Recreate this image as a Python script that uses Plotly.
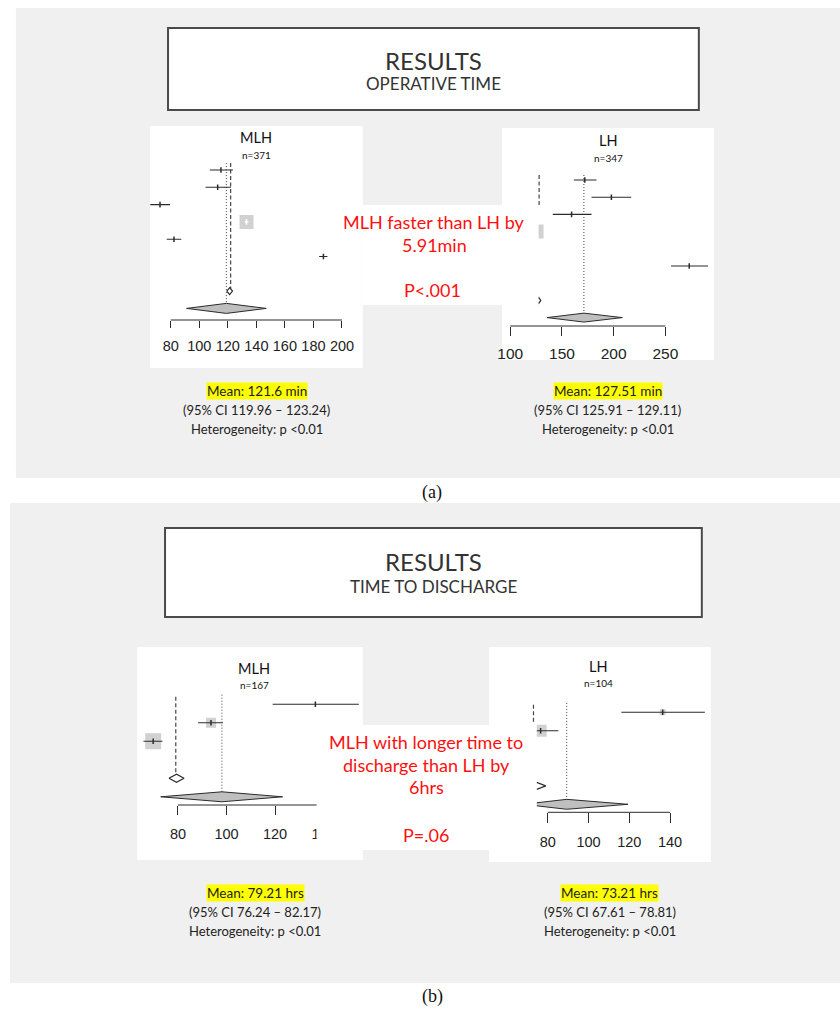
import plotly.graph_objects as go

W, H = 840, 1009

# ------------------------------------------------------------------ data
# (a) Operative time, MLH  (minutes)
op_mlh_row = [1, 2, 3, 4, 5, 6]
op_mlh_est = [115.2, 112.9, 72.5, 133.1, 82.3, 187.0]
op_mlh_lo = [107.4, 104.4, 65.6, 131.8, 77.2, 184.0]
op_mlh_hi = [123.6, 122.2, 79.5, 134.4, 87.4, 189.8]
op_mlh_weight = [0, 0, 0, 14, 0, 0]
op_mlh_random = [91.1, 119.0, 146.9]      # lower, estimate, upper
op_mlh_fixed = [119.3, 121.3, 123.3]
op_mlh_fixed_line = 122.0
op_mlh_ticks = [80, 100, 120, 140, 160, 180, 200]

# (a) Operative time, LH
op_lh_row = [1, 2, 3, 4, 6]
op_lh_est = [172.1, 197.8, 159.3, 125.4, 273.1]
op_lh_lo = [161.5, 178.6, 141.1, 124.5, 255.5]
op_lh_hi = [183.4, 217.0, 178.6, 126.3, 291.3]
op_lh_weight = [0, 0, 0, 14, 0]
op_lh_random = [135.6, 171.2, 208.4]
op_lh_fixed = [125.5, 127.5, 129.5]
op_lh_fixed_line = 127.9
op_lh_ticks = [100, 150, 200, 250]

# (b) Time to discharge, MLH (hours)
dc_mlh_row = [1, 2, 3]
dc_mlh_est = [136.6, 93.6, 69.8]
dc_mlh_lo = [119.0, 88.3, 65.8]
dc_mlh_hi = [154.5, 98.5, 73.6]
dc_mlh_weight = [0, 10, 16]
dc_mlh_random = [72.9, 98.1, 123.1]
dc_mlh_fixed = [76.3, 79.4, 82.5]
dc_mlh_fixed_line = 79.1
dc_mlh_ticks = [80, 100, 120, 140]

# (b) Time to discharge, LH
dc_lh_row = [1, 2]
dc_lh_est = [136.4, 76.5]
dc_lh_lo = [116.1, 72.0]
dc_lh_hi = [157.1, 85.2]
dc_lh_weight = [6, 12]
dc_lh_random = [68.0, 89.3, 119.4]
dc_lh_fixed = [70.2, 74.6, 79.0]
dc_lh_fixed_line = 73.0
dc_lh_ticks = [80, 100, 120, 140]

# ------------------------------------------------------------------ helpers
def PX(p):
    return p / W


def PY(p):
    return 1 - p / H


GRAY_BG = "#f0f0f0"
INK = "#2b2b2b"
SQ = "#bdbdbd"
SLIDE_FONT = "Lato"
TICK_FONT = "Liberation Sans"

fig = go.Figure()
layout_axes = {}
axis_counter = [0]


def new_axes():
    axis_counter[0] += 1
    n = axis_counter[0]
    return n, ("x" if n == 1 else f"x{n}"), ("y" if n == 1 else f"y{n}")


def panel(g, rows, est, lo, hi, weight, random, fixed, fixed_line, ticks,
          random_row, fixed_row):
    va, pa, vb, pb = g["cal"]
    k = (pb - pa) / (vb - va)          # pixels per unit

    def v(p):
        return va + (p - pa) / k

    def r(p):
        return 1 + (p - g["row0"]) / g["drow"]

    yrange = [r(g["bottom"]), r(g["top"])]
    ydom = [PY(g["bottom"]), PY(g["top"])]

    # axis subplot (full panel width)
    n1, xa1, ya1 = new_axes()
    layout_axes["xaxis" if n1 == 1 else f"xaxis{n1}"] = dict(
        domain=[PX(g["left"]), PX(g["right"])],
        range=[v(g["left"]), v(g["right"])],
        anchor="free", position=PY(g["axis_py"]),
        tickvals=ticks, ticktext=[str(t) for t in ticks],
        ticks="outside", ticklen=g["ticklen"], tickwidth=1, tickcolor=INK,
        ticklabelstandoff=g["standoff"],
        tickfont=dict(family=TICK_FONT, size=g["tickfs"], color="#222"),
        showline=False, showgrid=False, zeroline=False, fixedrange=True)
    layout_axes["yaxis" if n1 == 1 else f"yaxis{n1}"] = dict(
        domain=ydom, range=yrange, visible=False, anchor=xa1, fixedrange=True)

    # marks subplot (clipped at left edge of the drawing region)
    n2, xa2, ya2 = new_axes()
    layout_axes[f"xaxis{n2}"] = dict(
        domain=[PX(g["clip"]), PX(g["right"])],
        range=[v(g["clip"]), v(g["right"])],
        visible=False, anchor=ya2, fixedrange=True)
    layout_axes[f"yaxis{n2}"] = dict(
        domain=ydom, range=yrange, visible=False, anchor=xa2, fixedrange=True)

    axis_row = r(g["axis_py"])
    # axis line from first to last tick
    fig.add_trace(go.Scatter(x=[ticks[0], ticks[-1]], y=[axis_row, axis_row],
                             mode="lines", line=dict(color=INK, width=1),
                             xaxis=xa1, yaxis=ya1, hoverinfo="skip"))

    # dotted line at random-effects estimate
    fig.add_trace(go.Scatter(x=[random[1], random[1]],
                             y=[g["dot_top"], random_row],
                             mode="lines",
                             line=dict(color="#444", width=1, dash="1px,2px"),
                             xaxis=xa2, yaxis=ya2, hoverinfo="skip"))
    # dashed line at fixed-effect estimate
    fig.add_trace(go.Scatter(x=[fixed_line, fixed_line],
                             y=[g["dash"][0], g["dash"][1]],
                             mode="lines",
                             line=dict(color="#444", width=1.2, dash="4px,2.5px"),
                             xaxis=xa1, yaxis=ya1, hoverinfo="skip"))

    # squares
    sq_x = [e for e, w in zip(est, weight) if w > 0]
    sq_y = [rw for rw, w in zip(rows, weight) if w > 0]
    sq_s = [w for w in weight if w > 0]
    if sq_x:
        fig.add_trace(go.Scatter(x=sq_x, y=sq_y, mode="markers",
                                 marker=dict(symbol="square", size=sq_s,
                                             color=SQ, line=dict(width=0)),
                                 xaxis=xa2, yaxis=ya2, hoverinfo="skip"))
    # confidence intervals and point estimates
    for rw, e, l, h, w in zip(rows, est, lo, hi, weight):
        half = (w / 2) / k
        inside = w > 0 and l >= e - half and h <= e + half
        col = "white" if inside else INK
        fig.add_trace(go.Scatter(x=[l, h], y=[rw, rw], mode="lines",
                                 line=dict(color=col, width=1.1),
                                 xaxis=xa2, yaxis=ya2, hoverinfo="skip"))
        fig.add_trace(go.Scatter(x=[e], y=[rw], mode="markers",
                                 marker=dict(symbol="line-ns", size=4,
                                             line=dict(color=col, width=1.5)),
                                 xaxis=xa2, yaxis=ya2, hoverinfo="skip"))

    # fixed-effect (small open) diamond
    fh = g["fix_h"]
    fig.add_trace(go.Scatter(
        x=[fixed[0], fixed[1], fixed[2], fixed[1], fixed[0]],
        y=[fixed_row, fixed_row - fh, fixed_row, fixed_row + fh, fixed_row],
        mode="lines", fill="toself", fillcolor="white",
        line=dict(color=INK, width=1.2), xaxis=xa2, yaxis=ya2, hoverinfo="skip"))
    # random-effects summary diamond
    dh = g["diam_h"]
    fig.add_trace(go.Scatter(
        x=[random[0], random[1], random[2], random[1], random[0]],
        y=[random_row, random_row - dh, random_row, random_row + dh, random_row],
        mode="lines", fill="toself", fillcolor="#bfbfbf",
        line=dict(color=INK, width=1), xaxis=xa2, yaxis=ya2, hoverinfo="skip"))


G_OP_MLH = dict(left=146, right=360, top=126, bottom=368, clip=146,
                cal=(80, 166.7, 200, 339.0), row0=170, drow=17.3, axis_py=320,
                ticklen=7, tickfs=14.5, standoff=6, diam_h=0.29, fix_h=0.2,
                dot_top=0.6, dash=(0.6, 7.94))
G_OP_LH = dict(left=500, right=713, top=128, bottom=360, clip=536.8,
               cal=(100, 508.3, 250, 664.3), row0=180, drow=17.2, axis_py=326,
               ticklen=9, tickfs=15.5, standoff=4, diam_h=0.26, fix_h=0.18,
               dot_top=0.71, dash=(0.71, 2.45))
G_DC_MLH = dict(left=133, right=360, top=647, bottom=860, clip=133,
                cal=(80, 174.0, 120, 271.7), row0=704.3, drow=18.5, axis_py=805,
                ticklen=9, tickfs=14.5, standoff=7, diam_h=0.27, fix_h=0.22,
                dot_top=0.48, dash=(0.59, 4.71))
G_DC_LH = dict(left=487, right=710, top=647, bottom=862, clip=535,
               cal=(80, 546.0, 140, 669.0), row0=712.3, drow=18.4, axis_py=812.3,
               ticklen=10, tickfs=14.5, standoff=6, diam_h=0.27, fix_h=0.19,
               dot_top=0.49, dash=(0.59, 1.64))

# ------------------------------------------------------------------ backgrounds
shapes = []


def rect(x0, y0, x1, y1, fill, line=None, lw=0, layer="below"):
    shapes.append(dict(type="rect", xref="paper", yref="paper",
                       x0=PX(x0), x1=PX(x1), y0=PY(y1), y1=PY(y0),
                       fillcolor=fill, layer=layer,
                       line=dict(color=line or fill, width=lw)))


rect(11, 8, 840, 478, GRAY_BG)
rect(5, 503, 840, 983, GRAY_BG)
# title boxes
rect(164, 28, 698, 110, "white", "#4a4a4a", 2)
rect(161, 528, 701, 617, "white", "#4a4a4a", 2)
# white panels
rect(146, 126, 360, 368, "white")
rect(500, 128, 713, 360, "white")
rect(360, 205, 500, 305, "white")
rect(133, 647, 360, 860, "white")
rect(487, 647, 710, 862, "white")
rect(360, 725, 487, 850, "white")

panel(G_OP_MLH, op_mlh_row, op_mlh_est, op_mlh_lo, op_mlh_hi, op_mlh_weight,
      op_mlh_random, op_mlh_fixed, op_mlh_fixed_line, op_mlh_ticks, 9, 8)
panel(G_OP_LH, op_lh_row, op_lh_est, op_lh_lo, op_lh_hi, op_lh_weight,
      op_lh_random, op_lh_fixed, op_lh_fixed_line, op_lh_ticks, 9, 8)
panel(G_DC_MLH, dc_mlh_row, dc_mlh_est, dc_mlh_lo, dc_mlh_hi, dc_mlh_weight,
      dc_mlh_random, dc_mlh_fixed, dc_mlh_fixed_line, dc_mlh_ticks, 6, 5)
panel(G_DC_LH, dc_lh_row, dc_lh_est, dc_lh_lo, dc_lh_hi, dc_lh_weight,
      dc_lh_random, dc_lh_fixed, dc_lh_fixed_line, dc_lh_ticks, 6, 5)

# white text box overlapping the MLH axis in (b)
rect(313.5, 725, 487, 850, "white", layer="above")

# ------------------------------------------------------------------ text
annotations = []


def txt(x, y, s, size, color="#333", family=SLIDE_FONT, bg=None):
    a = dict(x=PX(x), y=PY(y), xref="paper", yref="paper", text=s,
             showarrow=False, xanchor="center", yanchor="middle",
             font=dict(family=family, size=size, color=color))
    if bg:
        a.update(bgcolor=bg, borderpad=0)
    annotations.append(a)


# titles
txt(431, 60, "RESULTS", 24)
txt(431, 84, "OPERATIVE TIME", 17)
txt(431, 561, "RESULTS", 24)
txt(431, 586, "TIME TO DISCHARGE", 17)

# panel headers
txt(252.7, 138, "MLH", 14.5, "#111")
txt(252.7, 155, "n=371", 10, "#111")
txt(606.7, 140, "LH", 14.5, "#111")
txt(606.7, 158, "n=347", 10, "#111")
txt(250.7, 668, "MLH", 14.5, "#111")
txt(250.7, 685, "n=167", 10, "#111")
txt(596.7, 666, "LH", 14.5, "#111")
txt(596.7, 683, "n=104", 10, "#111")

# comparison texts
RED = "#ff1010"
txt(432, 222, "MLH faster than LH by", 18, RED)
txt(432, 245, "5.91min", 18, RED)
txt(430, 290, "P<.001", 18, RED)
txt(424, 742, "MLH with longer time to", 18, RED)
txt(424, 765, "discharge than LH by", 18, RED)
txt(424, 787, "6hrs", 18, RED)
txt(424, 835, "P=.06", 18, RED)

# summary statistics
txt(253.4, 391, "Mean: 121.6 min", 13.5, "#222", bg="#ffff00")
txt(253.4, 410, "(95% CI 119.96 – 123.24)", 13, "#222")
txt(253.4, 429, "Heterogeneity: p <0.01", 13, "#222")
txt(606.6, 391, "Mean: 127.51 min", 13.5, "#222", bg="#ffff00")
txt(606.6, 410, "(95% CI 125.91 – 129.11)", 13, "#222")
txt(606.6, 429, "Heterogeneity: p <0.01", 13, "#222")
txt(251.8, 893, "Mean: 79.21 hrs", 13.5, "#222", bg="#ffff00")
txt(251.8, 912, "(95% CI 76.24 – 82.17)", 13, "#222")
txt(251.8, 931, "Heterogeneity: p <0.01", 13, "#222")
txt(608.6, 893, "Mean: 73.21 hrs", 13.5, "#222", bg="#ffff00")
txt(608.6, 912, "(95% CI 67.61 – 78.81)", 13, "#222")
txt(608.6, 931, "Heterogeneity: p <0.01", 13, "#222")

# captions
txt(430, 493, "(a)", 18, "#111", family="Liberation Serif")
txt(430, 996, "(b)", 18, "#111", family="Liberation Serif")

fig.update_layout(
    width=W, height=H, margin=dict(l=0, r=0, t=0, b=0),
    paper_bgcolor="white", plot_bgcolor="rgba(0,0,0,0)",
    showlegend=False, shapes=shapes, annotations=annotations,
    **layout_axes)

fig.write_html(
    "out.html",
    config={"displayModeBar": False, "staticPlot": True},
    post_script="document.body.style.margin='0px';"
                "document.body.style.overflow='hidden';")
